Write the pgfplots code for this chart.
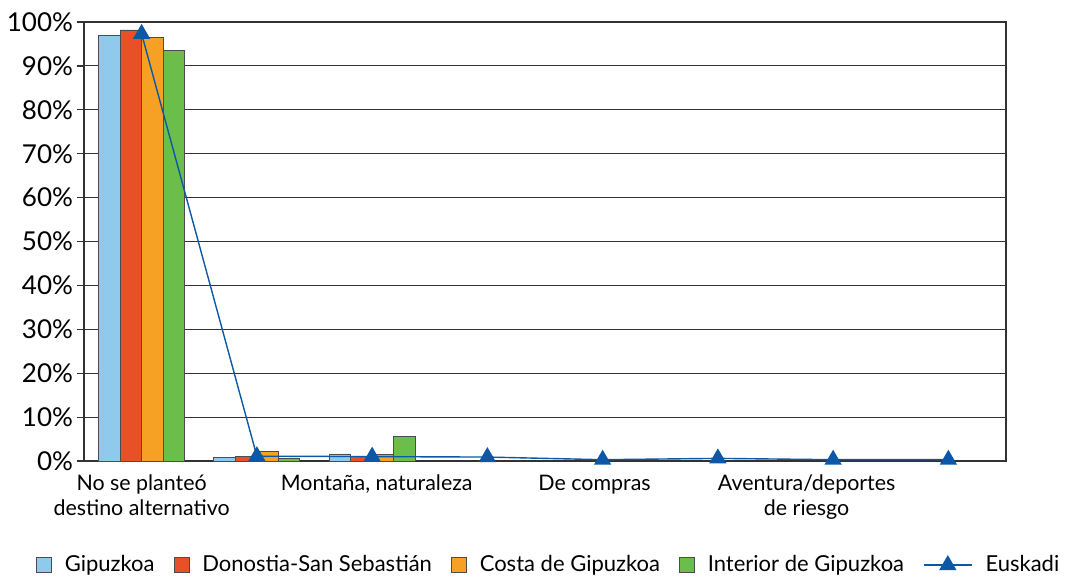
\documentclass[border=0pt]{standalone}
\usepackage{pgfplots}
\pgfplotsset{compat=1.18}
\usepackage{fontspec}
\setmainfont{Lato}
\definecolor{cGip}{RGB}{143,201,236}
\definecolor{cDon}{RGB}{232,80,40}
\definecolor{cCos}{RGB}{246,160,36}
\definecolor{cInt}{RGB}{108,190,74}
\definecolor{cEus}{RGB}{12,88,166}
\definecolor{cGrid}{RGB}{50,50,50}
\pgfplotsset{
  barleg/.style={legend image code/.code={\draw[##1,/tikz/.cd] (0pt,-3.6pt) rectangle (7.5pt,3.9pt);}},
  linleg/.style={legend image code/.code={\draw[mark repeat=2,mark phase=2,##1] plot coordinates {(0pt,0pt) (12pt,0pt) (24pt,0pt)};}},
}
\begin{document}
\begin{tikzpicture}
\useasboundingbox (-42pt,-59pt) rectangle (495.5pt,230.5pt);
\begin{axis}[
  at={(0,0)}, anchor=south west,
  scale only axis, width=461pt, height=219.5pt,
  xmin=-0.5, xmax=7.5, ymin=0, ymax=100,
  xtick={0,2.04,3.93,5.77},
  xticklabels={{No se planteó\\destino alternativo},{Montaña, naturaleza},{De compras},{Aventura/deportes\\de riesgo}},
  x tick label style={align=center, font=\fontsize{10.7}{12.5}\selectfont},
  major x tick style={draw=none},
  ytick={0,10,...,100},
  yticklabel={\pgfmathprintnumber{\tick}\%},
  /pgf/number format/assume math mode=true,
  y tick label style={font=\fontsize{13}{14}\selectfont, xshift=1.5pt},
  tick align=outside, ytick pos=left, major tick length=3.5pt,
  ymajorgrids, grid style={cGrid, line width=0.5pt},
  axis line style={cGrid, line width=0.6pt},
  tick style={cGrid, line width=0.6pt},
  legend style={draw=none, at={(0.505,-0.237)}, anchor=center, legend columns=5,
    font=\fontsize{11}{13}\selectfont,
    /tikz/every even column/.append style={column sep=7.5pt},
    /tikz/every odd column/.append style={column sep=4.5pt}},
  legend cell align=left,
]
\addplot[ybar, bar width=10.75pt, bar shift=-16.125pt, fill=cGip, draw=black!70, line width=0.4pt, barleg]
  coordinates {(0,97.0) (1,0.8) (2,1.6)};
\addlegendentry{Gipuzkoa}
\addplot[ybar, bar width=10.75pt, bar shift=-5.375pt, fill=cDon, draw=black!70, line width=0.4pt, barleg]
  coordinates {(0,98.2) (1,1.0) (2,1.1)};
\addlegendentry{Donostia-San Sebastián}
\addplot[ybar, bar width=10.75pt, bar shift=5.375pt, fill=cCos, draw=black!70, line width=0.4pt, barleg]
  coordinates {(0,96.4) (1,2.1) (2,1.4)};
\addlegendentry{Costa de Gipuzkoa}
\addplot[ybar, bar width=10.75pt, bar shift=16.125pt, fill=cInt, draw=black!70, line width=0.4pt, barleg]
  coordinates {(0,93.6) (1,0.6) (2,5.5)};
\addlegendentry{Interior de Gipuzkoa}
\addplot[cEus, line width=0.7pt, mark=triangle*, mark size=4.3pt, mark options={fill=cEus, draw=cEus}, linleg]
  coordinates {(0,97.3) (1,1.1) (2,1.0) (3,0.9) (4,0.3) (5,0.6) (6,0.3) (7,0.3)};
\addlegendentry{Euskadi}
\end{axis}
\end{tikzpicture}
\end{document}
